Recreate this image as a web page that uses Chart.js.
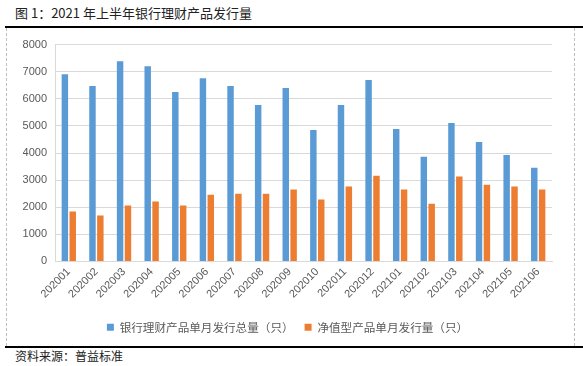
<!DOCTYPE html>
<html>
<head>
<meta charset="utf-8">
<script src="https://cdn.jsdelivr.net/npm/chart.js@4/dist/chart.umd.min.js"></script>
<style>
    html, body { margin: 0; padding: 0; background: #fff; }
    body { width: 583px; height: 366px; position: relative; overflow: hidden; }
    .title {
        position: absolute; left: 15px; top: 3px;
        font: 13px "Noto Sans CJK SC", sans-serif; color: #222;
        white-space: nowrap;
    }
    .rule { position: absolute; left: 5px; width: 578px; height: 1.5px; background: #000; }
    .frame {
        position: absolute; left: 6px; top: 28px; width: 567px; height: 318px;
        border-left: 1px dashed #bfbfbf; border-right: 1px dashed #bfbfbf;
    }
    .source {
        position: absolute; left: 15px; top: 347px;
        font: 12px "Noto Sans CJK SC", sans-serif; color: #222;
        white-space: nowrap;
    }
    #chart { position: absolute; left: 0; top: 30px; }
</style>
</head>
<body>
<div class="title">图 1：2021 年上半年银行理财产品发行量</div>
<div class="rule" style="top:26px"></div>
<div class="frame"></div>
<canvas id="chart" width="583" height="314"></canvas>
<div class="rule" style="top:346px"></div>
<div class="source">资料来源：普益标准</div>

<script>
// Chart data
const months = [
    '202001', '202002', '202003', '202004', '202005', '202006',
    '202007', '202008', '202009', '202010', '202011', '202012',
    '202101', '202102', '202103', '202104', '202105', '202106'
];
const totalIssued = [
    6910, 6470, 7390, 7200, 6250, 6760,
    6470, 5770, 6400, 4850, 5770, 6690,
    4890, 3860, 5110, 4410, 3930, 3460
];
const netValueIssued = [
    1840, 1690, 2060, 2210, 2060, 2460,
    2500, 2500, 2650, 2280, 2760, 3160,
    2650, 2130, 3130, 2830, 2760, 2650
];
const seriesNames = ['银行理财产品单月发行总量（只）', '净值型产品单月发行量（只）'];

const numFont = { family: '"Liberation Sans", Arial, sans-serif', size: 11 };
const gridColor = '#d9d9d9';
const textColor = '#595959';

new Chart(document.getElementById('chart'), {
    type: 'bar',
    data: {
        labels: months,
        datasets: [
            {
                label: seriesNames[0],
                data: totalIssued,
                backgroundColor: '#5b9bd5'
            },
            {
                label: seriesNames[1],
                data: netValueIssued,
                backgroundColor: '#ed7d31'
            }
        ]
    },
    options: {
        responsive: false,
        animation: false,
        // left padding shifts the legend centre to match the original
        layout: { padding: { left: 23, right: 31, top: 12, bottom: 1 } },
        datasets: {
            bar: { categoryPercentage: 0.57, barPercentage: 0.82 }
        },
        plugins: {
            legend: {
                position: 'bottom',
                labels: {
                    boxWidth: 7,
                    boxHeight: 7,
                    padding: 11,
                    color: textColor,
                    font: { family: '"Noto Sans CJK SC", sans-serif', size: 11.6 }
                }
            },
            tooltip: { enabled: false }
        },
        scales: {
            x: {
                grid: { display: false, drawTicks: false },
                border: { color: gridColor },
                ticks: {
                    minRotation: 45,
                    maxRotation: 45,
                    padding: 4,
                    color: textColor,
                    font: numFont
                },
                afterFit: function(scale) {
                    scale.height = 49;
                }
            },
            y: {
                min: 0,
                max: 8000,
                grid: { color: gridColor, drawTicks: false },
                border: { color: gridColor },
                ticks: {
                    stepSize: 1000,
                    padding: 8,
                    color: textColor,
                    font: numFont,
                    callback: function(value) {
                        return String(value);
                    }
                },
                afterFit: function(scale) {
                    scale.width = 32;
                }
            }
        }
    }
});
</script>
</body>
</html>
